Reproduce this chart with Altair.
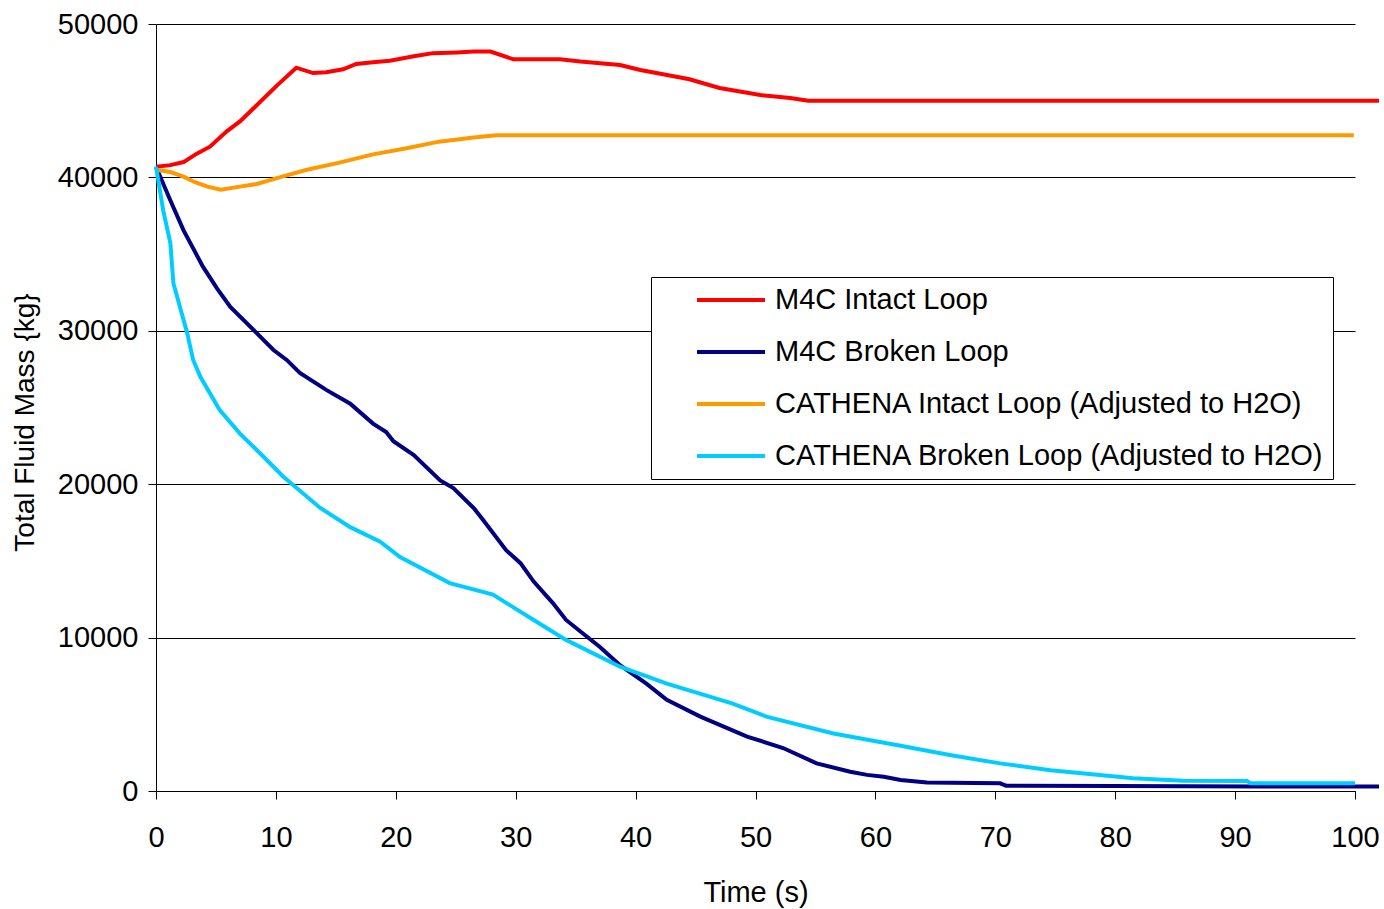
import altair as alt
import pandas as pd

series_names = [
    "M4C Intact Loop",
    "M4C Broken Loop",
    "CATHENA Intact Loop (Adjusted to H2O)",
    "CATHENA Broken Loop (Adjusted to H2O)",
]
series_colors = ["#FF0000", "#000080", "#FF9900", "#00CCFF"]

red_t = [0, 1.2, 2.3, 3.4, 4.5, 5.9, 7.0, 8.4, 10.1, 11.7, 13.1, 14.2, 15.6, 16.7, 18.1,
         19.5, 21.5, 23.1, 25.1, 26.5, 27.9, 29.8, 33.7, 35.4, 38.7, 40.4, 44.5, 47.0,
         50.4, 52.9, 54.4, 102]
red_v = [40700, 40800, 41000, 41550, 42000, 43000, 43650, 44700, 46000, 47150, 46800,
         46850, 47050, 47400, 47500, 47600, 47900, 48100, 48150, 48200, 48200, 47700,
         47700, 47550, 47330, 47000, 46400, 45830, 45370, 45170, 45000, 45000]

navy_t = [0, 1.2, 2.3, 3.9, 5.1, 6.2, 8.4, 9.8, 10.9, 12.0, 14.2, 16.2, 18.1, 19.2, 19.8,
          21.5, 23.7, 24.8, 26.5, 27.3, 29.2, 30.4, 31.5, 33.1, 34.2, 35.4, 37.0, 38.7,
          40.9, 42.6, 45.4, 49.3, 52.3, 55.1, 57.9, 59.3, 60.7, 62.1, 64.3, 70.4, 70.9,
          80, 92, 102]
navy_v = [40700, 38500, 36550, 34200, 32750, 31550, 29850, 28750, 28100, 27250, 26150,
          25250, 23950, 23400, 22800, 21900, 20250, 19750, 18450, 17650, 15700, 14850,
          13650, 12250, 11150, 10400, 9400, 8200, 7000, 5950, 4850, 3550, 2800, 1800,
          1260, 1050, 930, 720, 550, 500, 350, 330, 300, 300]

orange_t = [0, 1.2, 2.3, 3.2, 4.3, 5.4, 7.0, 8.4, 10.3, 12.5, 15.3, 18.1, 20.9, 23.6,
            26.5, 28.4, 99.9]
orange_v = [40500, 40350, 40050, 39700, 39400, 39200, 39400, 39570, 40000, 40480, 40960,
            41500, 41900, 42330, 42600, 42750, 42750]

cyan_t = [0, 0.6, 1.2, 1.45, 2.0, 2.6, 3.1, 3.7, 5.3, 7.0, 8.7, 10.6, 13.7, 16.2, 18.7,
          20.35, 24.5, 28.1, 31.5, 34.2, 38.7, 42.6, 48.1, 50.9, 56.5, 62.1, 66.2, 70.4,
          74.6, 78.7, 81.5, 85.7, 91.0, 91.3, 100]
cyan_v = [40700, 37850, 35700, 33100, 31550, 29850, 28100, 27000, 24850, 23300, 22000,
          20500, 18450, 17200, 16250, 15250, 13550, 12800, 11150, 9850, 8100, 7000, 5700,
          4850, 3750, 2950, 2350, 1800, 1350, 1050, 830, 670, 650, 500, 500]

x_ticks = [0, 10, 20, 30, 40, 50, 60, 70, 80, 90, 100]
y_ticks = [0, 10000, 20000, 30000, 40000, 50000]

rows = []
for name, ts, vs in zip(series_names,
                        [red_t, navy_t, orange_t, cyan_t],
                        [red_v, navy_v, orange_v, cyan_v]):
    for i, (t, v) in enumerate(zip(ts, vs)):
        rows.append({"series": name, "t": t, "v": v, "idx": i})
df = pd.DataFrame(rows)

FONT = "Liberation Sans"

chart = alt.Chart(df).mark_line(strokeWidth=4, clip=False).encode(
    x=alt.X(
        "t:Q",
        scale=alt.Scale(domain=[0, 100], nice=False, zero=False),
        axis=alt.Axis(
            values=x_ticks, format="d", grid=False,
            tickSize=8, tickColor="black", domainColor="black",
            labelFont=FONT, labelFontSize=29, labelColor="black", labelPadding=24,
            labelFlush=False,
            title="Time (s)", titleFont=FONT, titleFontSize=29, titleFontWeight="normal",
            titleColor="black", titleY=110, titleBaseline="alphabetic",
        ),
    ),
    y=alt.Y(
        "v:Q",
        scale=alt.Scale(domain=[0, 50000], nice=False),
        axis=alt.Axis(
            values=y_ticks, format="d", grid=True, gridColor="black", gridWidth=1,
            tickSize=8, tickColor="black", domainColor="black",
            labelFont=FONT, labelFontSize=29, labelColor="black", labelPadding=10,
            labelFlush=False,
            title="Total Fluid Mass {kg}", titleFont=FONT, titleFontSize=28,
            titleFontWeight="normal", titleColor="black",
            titleX=-123, titleY=398, titleAngle=270, titleBaseline="alphabetic",
            titleAlign="center",
        ),
    ),
    color=alt.Color(
        "series:N",
        scale=alt.Scale(domain=series_names, range=series_colors),
        sort=series_names,
        title=None,
        legend=alt.Legend(
            orient="none", legendX=495, legendY=253,
            strokeColor="black", fillColor="white", padding=8,
            symbolType="stroke", symbolSize=4624, symbolStrokeWidth=4,
            symbolOffset=36, labelOffset=8, clipHeight=30, rowPadding=22,
            labelFont=FONT, labelFontSize=29, labelColor="black", labelLimit=1000,
        ),
    ),
    order="idx:Q",
).properties(
    width=1199,
    height=767,
    autosize=alt.AutoSizeParams(type="none"),
    padding={"left": 156, "top": 24, "right": 29, "bottom": 118},
).configure(background="white").configure_view(stroke=None)

chart.save("out.html", embed_options={"renderer": "svg", "actions": False})
